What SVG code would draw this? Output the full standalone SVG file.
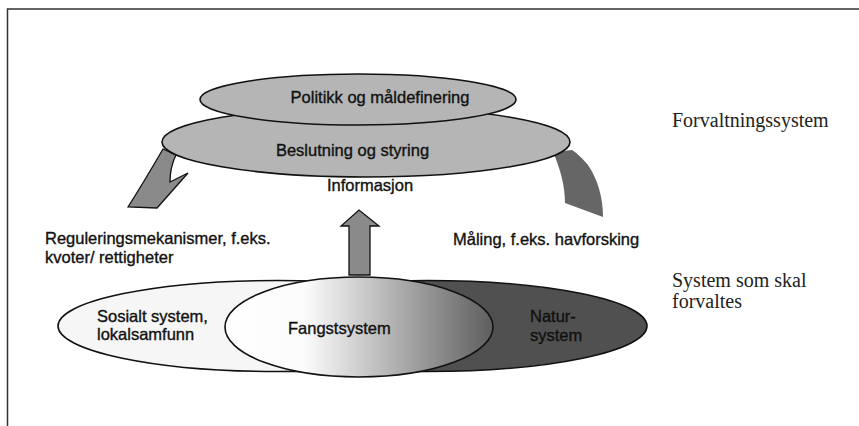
<svg xmlns="http://www.w3.org/2000/svg" width="859" height="426" viewBox="0 0 859 426">
<style>
.t{font-family:"Liberation Sans",Arial,sans-serif;font-size:16.5px;fill:#111;stroke:#111;stroke-width:0.35}
.s{font-family:"Liberation Serif","Times New Roman",serif;font-size:20px;fill:#222}
.ol{stroke:#111;stroke-width:1.6}
</style>
<defs>
<linearGradient id="fg" x1="225" y1="0" x2="493" y2="0" gradientUnits="userSpaceOnUse">
<stop offset="0" stop-color="#ffffff"/>
<stop offset="0.3" stop-color="#fbfbfb"/>
<stop offset="1" stop-color="#5e5e5e"/>
</linearGradient>
<clipPath id="cl"><rect x="0" y="0" width="359" height="426"/></clipPath>
<clipPath id="cr"><rect x="359" y="0" width="500" height="426"/></clipPath>
</defs>
<rect width="859" height="426" fill="#fff"/>
<path d="M7.5 426 V9 H859" fill="none" stroke="#333" stroke-width="1.5"/>

<g id="connectors">
<path id="arrow-left" d="M163 149 C152 168 140 188 128 207 L157 208 L188 173 L170 182 C170 172 172 163 176 155 Z" fill="#8a8a8a" stroke="#111" stroke-width="1.3"/>
<path id="arrow-right" d="M553 152 C560 168 565 185 565 203 L603 217 C603 198 598 180 588 165 C582 158 578 154 572 150 Z" fill="#666"/>
<path id="arrow-up" d="M349 275 V226 H341 L359 210 L379 226 H370 V275 Z" fill="#8a8a8a" stroke="#111" stroke-width="1.3"/>
</g>

<g id="node-beslutning">
<ellipse cx="366" cy="142" rx="204" ry="35" fill="#b5b5b5" class="ol"/>
<text class="t" x="352.5" y="156" text-anchor="middle">Beslutning og styring</text>
</g>
<g id="node-politikk">
<ellipse cx="358" cy="99.5" rx="158" ry="25.5" fill="#b5b5b5" class="ol"/>
<text class="t" x="380" y="103" text-anchor="middle">Politikk og måldefinering</text>
</g>
<g id="label-informasjon">
<text class="t" x="370" y="191" text-anchor="middle">Informasjon</text>
</g>

<g id="label-regulering">
<text class="t" x="45" y="244">Reguleringsmekanismer, f.eks.</text>
<text class="t" x="45" y="263">kvoter/ rettigheter</text>
</g>
<g id="label-maling">
<text class="t" x="453" y="245">Måling, f.eks. havforsking</text>
</g>

<g id="node-sosialt">
<ellipse cx="277.5" cy="326" rx="219.5" ry="45.5" fill="#f6f6f6" class="ol" clip-path="url(#cl)"/>
<text class="t" x="97" y="322">Sosialt system,</text>
<text class="t" x="97" y="340">lokalsamfunn</text>
</g>
<g id="node-natur">
<ellipse cx="427.5" cy="326" rx="219.5" ry="45.5" fill="#505050" class="ol" clip-path="url(#cr)"/>
<text class="t" x="530" y="322">Natur-</text>
<text class="t" x="530" y="341">system</text>
</g>
<g id="node-fangst">
<ellipse cx="359" cy="327" rx="134" ry="50" fill="url(#fg)" class="ol"/>
<text class="t" x="288" y="334">Fangstsystem</text>
</g>

<g id="label-forvaltning">
<text class="s" x="672" y="127">Forvaltningssystem</text>
</g>
<g id="label-system">
<text class="s" x="672" y="287">System som skal</text>
<text class="s" x="672" y="308">forvaltes</text>
</g>
</svg>
